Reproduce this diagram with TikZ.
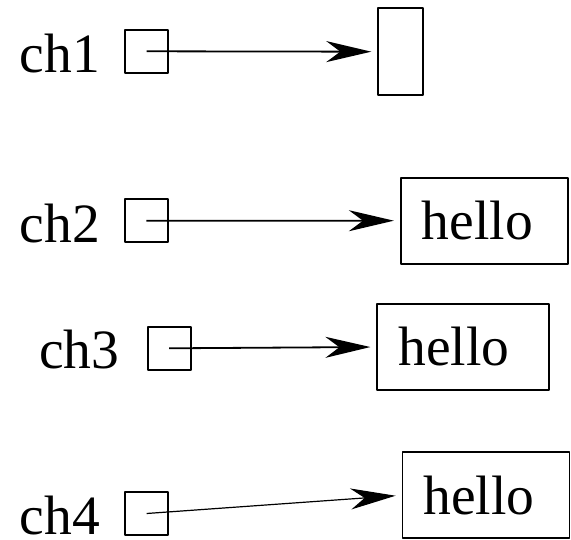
\documentclass[tikz,border=0pt]{standalone}
\usepackage{fontspec}
\setmainfont{Liberation Serif}
\usetikzlibrary{arrows.meta}
\begin{document}
\begin{tikzpicture}[x=1pt,y=-1pt,line join=round,
	font=\fontsize{55.5}{60}\selectfont,
	ptr/.style={draw,line width=1.8pt,minimum width=43pt,minimum height=43pt,inner sep=0pt},
	val/.style={draw,line width=1.8pt,inner xsep=21pt,inner ysep=0pt,minimum height=86pt,text width=125pt,align=left},
	lbl/.style={anchor=base west,inner sep=0pt},
	>={Stealth[length=45pt,width=21pt,inset=14pt]},
	link/.style={->,line width=1.8pt,shorten >=6pt}]
	\useasboundingbox (0,0) rectangle (571,540);
	% labels
	\node[lbl] (n1) at (19.5,72.7) {ch1};
	\node[lbl] (n2) at (19.5,242.7) {ch2};
	\node[lbl] (n3) at (39,368.3) {ch3};
	\node[lbl] (n4) at (19.5,534.5) {ch4};
	% pointer boxes
	\node[ptr] (p1) at (146.7,51.3) {};
	\node[ptr] (p2) at (146.4,220.8) {};
	\node[ptr] (p3) at (169.2,348.3) {};
	\node[ptr] (p4) at (146.6,513.5) {};
	% values
	\node[draw,line width=1.8pt,minimum width=45pt,minimum height=87pt,inner sep=0pt] (v1) at (400.7,51.7) {};
	\node[val] (v2) at (484.3,220.7) {\raisebox{-2pt}{hello}};
	\node[val,text width=130pt] (v3) at (463.3,347) {\raisebox{-2pt}{hello}};
	\node[val] (v4) at (486,495.3) {\raisebox{-2pt}{hello}};
	% links
	\draw[link] (p1.center) -- (v1.west);
	\draw[link] (p2.center) -- (v2.west);
	\draw[link] (p3.center) -- (v3.west);
	\draw[link,line width=1.2pt] (p4.center) -- (v4.west);
\end{tikzpicture}
\end{document}
